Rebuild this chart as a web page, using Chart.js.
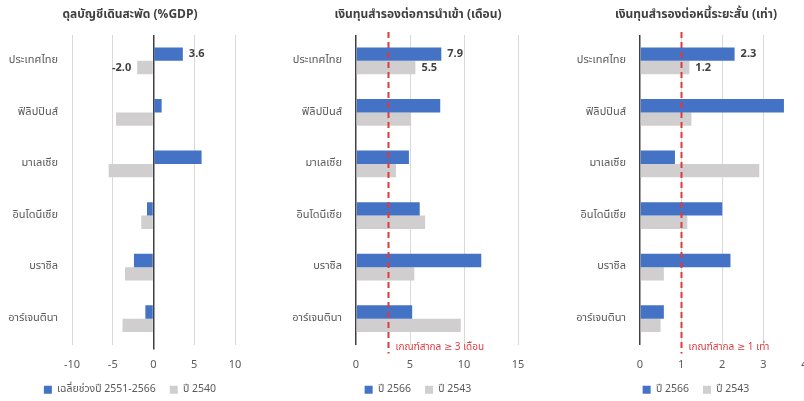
<!DOCTYPE html>
<html>
<head>
<meta charset="utf-8">
<script src="https://cdn.jsdelivr.net/npm/chart.js@4.4.1/dist/chart.umd.min.js"></script>
<style>
  html, body { margin: 0; padding: 0; background: #fff; overflow: hidden; }
  #wrap { position: relative; width: 804px; height: 401px; overflow: hidden; }
  .panel { position: absolute; top: 0; height: 405px; }
</style>
</head>
<body>
<div id="wrap">
  <div class="panel" style="left:0px;width:270px"><canvas id="c1" width="270" height="405"></canvas></div>
  <div class="panel" style="left:270px;width:270px"><canvas id="c2" width="270" height="405"></canvas></div>
  <div class="panel" style="left:540px;width:290px"><canvas id="c3" width="290" height="405"></canvas></div>
</div>
<script>
const categories = ['ประเทศไทย', 'ฟิลิปปินส์', 'มาเลเซีย', 'อินโดนีเซีย', 'บราซิล', 'อาร์เจนตินา'];

// ดุลบัญชีเดินสะพัด (%GDP)
const currentAccountAvg = [3.6, 1.0, 5.9, -0.8, -2.4, -1.0];
const currentAccount2540 = [-2.0, -4.6, -5.5, -1.5, -3.5, -3.8];

// เงินทุนสำรองต่อการนำเข้า (เดือน)
const importCover2566 = [7.9, 7.8, 4.9, 5.9, 11.6, 5.2];
const importCover2543 = [5.5, 5.1, 3.7, 6.4, 5.4, 9.7];

// เงินทุนสำรองต่อหนี้ระยะสั้น (เท่า)
const debtCover2566 = [2.3, 3.5, 0.85, 2.0, 2.2, 0.58];
const debtCover2543 = [1.2, 1.25, 2.9, 1.15, 0.58, 0.5];

const FONT = '"Noto Sans Thai", Tahoma, "Leelawadee UI", "Noto Sans", "DejaVu Sans", sans-serif';
const BLUE = '#4472C4';
const GREY = '#D0CECE';
const RED = '#E0393E';

Chart.defaults.font.family = FONT;
Chart.defaults.color = '#595959';

// let the category labels spill into the left padding instead of being clipped
const widenLabels = {
    id: 'widenLabels',
    afterLayout(chart) {
        chart.scales.y.left = 0;
    }
};

// value labels for the first category only (Thailand)
const valueLabels = {
    id: 'valueLabels',
    afterDatasetsDraw(chart) {
        const ctx = chart.ctx;
        ctx.save();
        ctx.font = 'bold 11px ' + FONT;
        ctx.fillStyle = '#404040';
        ctx.textBaseline = 'middle';
        chart.data.datasets.forEach((ds, i) => {
            const bar = chart.getDatasetMeta(i).data[0];
            const v = ds.data[0];
            if (v >= 0) {
                ctx.textAlign = 'left';
                ctx.fillText(v.toFixed(1), bar.x + 6, bar.y + 1);
            } else {
                ctx.textAlign = 'right';
                ctx.fillText(v.toFixed(1), bar.x - 6, bar.y + 1);
            }
        });
        ctx.restore();
    }
};

// red dashed threshold line with its caption
const threshold = {
    id: 'threshold',
    afterDatasetsDraw(chart, args, opts) {
        if (opts.value === undefined) return;
        const { ctx, chartArea, scales } = chart;
        const x = Math.round(scales.x.getPixelForValue(opts.value)) + 0.5;
        ctx.save();
        ctx.strokeStyle = RED;
        ctx.lineWidth = 2;
        ctx.setLineDash([6, 4]);
        ctx.beginPath();
        ctx.moveTo(x, chartArea.top - 3);
        ctx.lineTo(x, chartArea.bottom + 9);
        ctx.stroke();
        ctx.font = '10px ' + FONT;
        ctx.fillStyle = RED;
        ctx.textAlign = 'left';
        ctx.textBaseline = 'middle';
        ctx.fillText(opts.text, x + 7, chartArea.bottom + 3);
        ctx.restore();
    }
};

const makeChart = (id, cfg) => {
    const ctx = document.getElementById(id).getContext('2d');
    return new Chart(ctx, {
        type: 'bar',
        data: {
            labels: categories,
            datasets: [
                { label: cfg.labels[0], data: cfg.series[0], backgroundColor: BLUE,
                  categoryPercentage: 0.52, barPercentage: 1.0 },
                { label: cfg.labels[1], data: cfg.series[1], backgroundColor: GREY,
                  categoryPercentage: 0.52, barPercentage: 1.0 }
            ]
        },
        plugins: [widenLabels, valueLabels, threshold],
        options: {
            indexAxis: 'y',
            responsive: false,
            animation: false,
            layout: { padding: { left: cfg.padLeft, right: cfg.padRight, top: 0, bottom: 0 } },
            scales: {
                x: {
                    min: cfg.min, max: cfg.max,
                    ticks: { stepSize: cfg.step, padding: 10, font: { size: 11 }, color: '#595959' },
                    grid: {
                        drawTicks: true,
                        tickLength: 5,
                        tickColor: c => (cfg.zeroTick && c.tick && c.tick.value === 0) ? '#404040' : 'rgba(0,0,0,0)',
                        color: c => c.tick && c.tick.value === 0 ? '#404040' : '#D9D9D9',
                        lineWidth: c => c.tick && c.tick.value === 0 ? 1.5 : 1
                    },
                    border: { display: false },
                    afterFit: s => { s.height = 26; }
                },
                y: {
                    ticks: { padding: 14, font: { size: 11 }, color: '#595959' },
                    grid: { display: false, drawTicks: false },
                    border: { display: false },
                    afterFit: s => { s.width = cfg.axisWidth; }
                }
            },
            plugins: {
                title: {
                    display: true,
                    text: cfg.title,
                    color: '#404040',
                    font: { size: 12, weight: 'bold' },
                    padding: { top: 8, bottom: 12.6 }
                },
                legend: {
                    position: 'bottom',
                    labels: { boxWidth: 8, boxHeight: 8, font: { size: 10.5 }, color: '#595959', padding: 14 }
                },
                tooltip: { enabled: false },
                threshold: cfg.threshold || {}
            }
        }
    });
};

makeChart('c1', {
    title: 'ดุลบัญชีเดินสะพัด (%GDP)',
    labels: ['เฉลี่ยช่วงปี 2551-2566', 'ปี 2540'],
    series: [currentAccountAvg, currentAccount2540],
    min: -10, max: 10, step: 5,
    padLeft: 25, padRight: 35, axisWidth: 47, zeroTick: true
});

makeChart('c2', {
    title: 'เงินทุนสำรองต่อการนำเข้า (เดือน)',
    labels: ['ปี 2566', 'ปี 2543'],
    series: [importCover2566, importCover2543],
    min: 0, max: 15, step: 5,
    padLeft: 48, padRight: 22, axisWidth: 38,
    threshold: { value: 3, text: 'เกณฑ์สากล ≥ 3 เดือน' }
});

makeChart('c3', {
    title: 'เงินทุนสำรองต่อหนี้ระยะสั้น (เท่า)',
    labels: ['ปี 2566', 'ปี 2543'],
    series: [debtCover2566, debtCover2543],
    min: 0, max: 4, step: 1,
    padLeft: 47.5, padRight: 25.5, axisWidth: 52.5,
    threshold: { value: 1, text: 'เกณฑ์สากล ≥ 1 เท่า' }
});
</script>
</body>
</html>
